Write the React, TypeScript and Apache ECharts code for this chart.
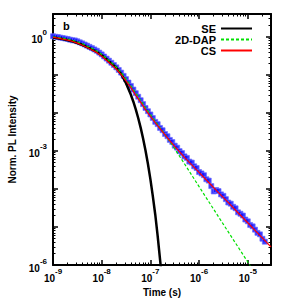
import React, { useEffect, useRef } from "react";
import * as echarts from "echarts";

// ---------- data ----------
// Measured PL decay (blue squares)
const measuredT = [
  1e-9, 1.12e-9, 1.26e-9, 1.41e-9, 1.58e-9, 1.78e-9, 2e-9, 2.24e-9, 2.51e-9, 2.82e-9,
  3.16e-9, 3.55e-9, 3.98e-9, 4.47e-9, 5.01e-9, 5.62e-9, 6.31e-9, 7.08e-9, 7.94e-9, 8.91e-9,
  1e-8, 1.12e-8, 1.26e-8, 1.41e-8, 1.58e-8, 1.78e-8, 2e-8, 2.24e-8, 2.51e-8, 2.82e-8,
  3.16e-8, 3.55e-8, 3.98e-8, 4.47e-8, 5.01e-8, 5.62e-8, 6.31e-8, 7.08e-8, 7.94e-8, 8.91e-8,
  1e-7, 1.12e-7, 1.26e-7, 1.41e-7, 1.58e-7, 1.78e-7, 2e-7, 2.24e-7, 2.51e-7, 2.82e-7,
  3.16e-7, 3.55e-7, 3.98e-7, 4.47e-7, 5.01e-7, 5.62e-7, 6.31e-7, 7.08e-7, 7.94e-7, 8.91e-7,
  1e-6, 1.12e-6, 1.26e-6, 1.41e-6, 1.58e-6, 1.78e-6, 2e-6, 2.24e-6, 2.51e-6, 2.82e-6,
  3.16e-6, 3.55e-6, 3.98e-6, 4.47e-6, 5.01e-6, 5.62e-6, 6.31e-6, 7.08e-6, 7.94e-6, 8.91e-6,
  1e-5, 1.12e-5, 1.26e-5, 1.41e-5, 1.58e-5, 1.78e-5, 2e-5, 2.24e-5,
];
const measuredI = [
  1.04, 1.01, 0.99, 0.96, 0.933, 0.906, 0.881, 0.845, 0.813, 0.807,
  0.767, 0.719, 0.676, 0.631, 0.589, 0.546, 0.507, 0.468, 0.432, 0.386,
  0.347, 0.305, 0.269, 0.237, 0.209, 0.182, 0.158, 0.135, 0.115, 0.0944,
  0.0776, 0.0631, 0.0513, 0.0412, 0.0331, 0.0267, 0.0216, 0.0171, 0.0135, 0.0111,
  0.00912, 0.00736, 0.00582, 0.00507, 0.00403, 0.00351, 0.00279, 0.00244, 0.00195, 0.00172,
  0.00138, 0.00122, 9.9e-4, 8.8e-4, 7.2e-4, 6.56e-4, 5.25e-4, 4.94e-4, 3.95e-4, 3.56e-4,
  2.79e-4, 2.56e-4, 2.3e-4, 1.8e-4, 1.66e-4, 1.19e-4, 8.6e-5, 9.4e-5, 8.8e-5, 7.2e-5,
  6.6e-5, 5.4e-5, 4.4e-5, 4.1e-5, 3.4e-5, 3.1e-5, 2.43e-5, 2.23e-5, 2.0e-5, 1.57e-5,
  1.41e-5, 1.13e-5, 1.04e-5, 8.5e-6, 7.0e-6, 6.4e-6, 4.9e-6, 4.1e-6,
];

// SE fit (black)
const seT = [
  1e-9, 1.58e-9, 2.51e-9, 3.98e-9, 6.31e-9, 7.94e-9, 1e-8, 1.26e-8, 1.58e-8, 2e-8,
  2.51e-8, 3.16e-8, 3.98e-8, 4.47e-8, 5.01e-8, 5.62e-8, 6.31e-8, 7.08e-8, 7.94e-8, 8.91e-8,
  1e-7, 1.12e-7, 1.26e-7, 1.41e-7, 1.58e-7, 1.7e-7,
];
const seI = [
  0.96, 0.88, 0.77, 0.62, 0.47, 0.4, 0.33, 0.26, 0.2, 0.155,
  0.106, 0.0605, 0.0299, 0.0197, 0.0124, 0.00734, 0.0041, 0.00213, 0.00103, 4.54e-4,
  1.82e-4, 6.6e-5, 2.1e-5, 5.85e-6, 1.38e-6, 5.4e-7,
];

// 2D-DAP fit (green dashed)
const dapT = [
  1e-9, 1.58e-9, 2.51e-9, 3.98e-9, 6.31e-9, 7.94e-9, 1e-8, 1.26e-8, 1.58e-8, 2e-8,
  2.51e-8, 3.16e-8, 3.98e-8, 5.01e-8, 6.31e-8, 7.94e-8, 1e-7, 1.26e-7, 1.58e-7, 2e-7,
  2.51e-7, 3.16e-7, 3.98e-7, 5.01e-7, 6.31e-7, 1e-6, 3.16e-6, 1e-5, 1.26e-5,
];
const dapI = [
  1.0, 0.933, 0.822, 0.668, 0.501, 0.427, 0.347, 0.272, 0.211, 0.16,
  0.116, 0.0785, 0.0519, 0.0335, 0.0216, 0.0138, 0.00912, 0.0061, 0.00407, 0.00272,
  0.00178, 0.00114, 7.2e-4, 4.6e-4, 2.9e-4, 1.15e-4, 1.17e-5, 1.2e-6, 7.6e-7,
];

// CS fit (red)
const csT = [
  1e-9, 1.26e-9, 1.58e-9, 2e-9, 2.5e-9, 3.16e-9, 4e-9, 5e-9, 6.3e-9, 8e-9,
  1e-8, 1.26e-8, 1.58e-8, 2e-8, 2.5e-8, 3.16e-8, 4e-8, 5e-8, 6.3e-8, 8e-8,
  1e-7, 1.26e-7, 1.58e-7, 2e-7, 2.5e-7, 3.16e-7, 4e-7, 5e-7, 6.3e-7, 1e-6,
  1.58e-6, 2.5e-6, 4e-6, 6.3e-6, 1e-5, 1.58e-5, 2.5e-5, 3e-5,
];
const csI = [
  0.97, 0.923, 0.871, 0.822, 0.759, 0.684, 0.603, 0.525, 0.452, 0.385,
  0.309, 0.24, 0.186, 0.141, 0.102, 0.0692, 0.0457, 0.0295, 0.0193, 0.012,
  0.00813, 0.00556, 0.00385, 0.00266, 0.00186, 0.00132, 9.4e-4, 6.8e-4, 5.0e-4, 2.72e-4,
  1.48e-4, 8.0e-5, 4.37e-5, 2.37e-5, 1.29e-5, 7.0e-6, 3.8e-6, 3.0e-6,
];

// axis ranges / ticks (exponents of ten)
const xRange = [1e-9, 3e-5];
const yRange = [1e-6, 4];
const xMajorExp = [-9, -8, -7, -6, -5];
const xLabelExp = [-9, -8, -7, -6, -5];
const yMajorExp = [-6, -5, -4, -3, -2, -1, 0];
const yLabelExp = [-6, -3, 0];
const legendNames = ["SE", "2D-DAP", "CS"];
const panelLabel = "b";

const FONT = '"Liberation Sans", Arial, Helvetica, sans-serif';

const lg = (v: number) => Math.log10(v);
const pairs = (t: number[], i: number[]) => t.map((tv, k) => [lg(tv), lg(i[k])]);

function minorTicks(majors: number[], max: number) {
  const out: number[] = [];
  for (const e of majors) {
    for (let k = 2; k <= 9; k++) {
      const v = e + Math.log10(k);
      if (v < max - 0.002) out.push(v);
    }
  }
  return out;
}

const labelRich = {
  b: {
    fontSize: 10,
    fontWeight: "bold",
    fontFamily: FONT,
    color: "#000",
    lineHeight: 16,
    verticalAlign: "bottom",
  },
  s: {
    fontSize: 8,
    fontWeight: "bold",
    fontFamily: FONT,
    color: "#000",
    lineHeight: 8,
    verticalAlign: "top",
  },
};
const fmt = (v: number) => `{b|10}{s|${Math.round(v)}}`;

export default function App() {
  const ref = useRef<HTMLDivElement>(null);

  useEffect(() => {
    if (!ref.current) return;
    const chart = echarts.init(ref.current, null, { renderer: "svg" });

    const xMin = lg(xRange[0]);
    const xMax = lg(xRange[1]);
    const yMin = lg(yRange[0]);
    const yMax = lg(yRange[1]);
    const xMinor = minorTicks(xMajorExp, xMax);
    const yMinor = minorTicks(yMajorExp, yMax);

    const border = { show: true, onZero: false, lineStyle: { color: "#000", width: 2 } };
    const noLine = { show: false, onZero: false };
    const majorTick = (vals: number[]) => ({
      show: true,
      inside: true,
      length: 5,
      customValues: vals,
      lineStyle: { color: "#000", width: 1.5 },
    });
    const minorTick = (vals: number[]) => ({
      show: true,
      inside: true,
      length: 2.5,
      customValues: vals,
      lineStyle: { color: "#000", width: 1 },
    });

    const xBase = { type: "value", min: xMin, max: xMax, splitLine: { show: false } };
    const yBase = { type: "value", min: yMin, max: yMax, splitLine: { show: false } };

    const option: any = {
      animation: false,
      backgroundColor: "#fff",
      grid: {
        left: 53,
        right: 18,
        top: 14,
        bottom: 35,
        containLabel: false,
        outerBoundsMode: "none",
      },
      legend: {
        data: legendNames,
        orient: "vertical",
        align: "right",
        right: 31,
        top: 18,
        itemWidth: 31,
        itemHeight: 11,
        itemGap: 0,
        itemStyle: { opacity: 0, borderWidth: 0 },
        textStyle: {
          fontSize: 11,
          fontWeight: "bold",
          fontFamily: FONT,
          color: "#000",
          lineHeight: 11,
        },
      },
      graphic: [
        {
          type: "text",
          left: 63,
          top: 20,
          style: { text: panelLabel, font: `bold 11px ${FONT}`, fill: "#000" },
        },
      ],
      xAxis: [
        {
          ...xBase,
          position: "bottom",
          axisLine: border,
          axisTick: majorTick(xMajorExp),
          axisLabel: {
            show: true,
            customValues: xLabelExp,
            margin: 2,
            formatter: fmt,
            rich: labelRich,
          },
          name: "Time (s)",
          nameLocation: "middle",
          nameGap: 22,
          nameTextStyle: {
            fontSize: 10,
            fontWeight: "bold",
            fontFamily: FONT,
            color: "#000",
          },
        },
        {
          ...xBase,
          position: "bottom",
          axisLine: noLine,
          axisTick: minorTick(xMinor),
          axisLabel: { show: false },
        },
        {
          ...xBase,
          position: "top",
          axisLine: border,
          axisTick: majorTick(xMajorExp),
          axisLabel: { show: false },
        },
        {
          ...xBase,
          position: "top",
          axisLine: noLine,
          axisTick: minorTick(xMinor),
          axisLabel: { show: false },
        },
      ],
      yAxis: [
        {
          ...yBase,
          position: "left",
          axisLine: border,
          axisTick: majorTick(yMajorExp),
          axisLabel: {
            show: true,
            customValues: yLabelExp,
            margin: 6,
            formatter: fmt,
            rich: labelRich,
          },
          name: "Norm. PL Intensity",
          nameLocation: "middle",
          nameGap: 34,
          nameTextStyle: {
            fontSize: 10,
            fontWeight: "bold",
            fontFamily: FONT,
            color: "#000",
          },
        },
        {
          ...yBase,
          position: "left",
          axisLine: noLine,
          axisTick: minorTick(yMinor),
          axisLabel: { show: false },
        },
        {
          ...yBase,
          position: "right",
          axisLine: border,
          axisTick: majorTick(yMajorExp),
          axisLabel: { show: false },
        },
        {
          ...yBase,
          position: "right",
          axisLine: noLine,
          axisTick: minorTick(yMinor),
          axisLabel: { show: false },
        },
      ],
      series: [
        {
          name: "Data",
          type: "scatter",
          xAxisIndex: 0,
          yAxisIndex: 0,
          data: pairs(measuredT, measuredI),
          symbol: "rect",
          symbolSize: 5,
          itemStyle: { color: "#0606ff", borderColor: "rgba(110,110,255,0.85)", borderWidth: 1 },
          z: 1,
        },
        {
          name: "SE",
          type: "line",
          xAxisIndex: 0,
          yAxisIndex: 0,
          data: pairs(seT, seI),
          symbol: "none",
          showSymbol: false,
          lineStyle: { color: "#000", width: 2.5 },
          itemStyle: { color: "#000" },
          z: 2,
        },
        {
          name: "2D-DAP",
          type: "line",
          xAxisIndex: 0,
          yAxisIndex: 0,
          data: pairs(dapT, dapI),
          symbol: "none",
          showSymbol: false,
          lineStyle: { color: "#00e000", width: 1.2, type: [3, 2] },
          itemStyle: { color: "#00e000" },
          z: 3,
        },
        {
          name: "CS",
          type: "line",
          xAxisIndex: 0,
          yAxisIndex: 0,
          data: pairs(csT, csI),
          symbol: "none",
          showSymbol: false,
          lineStyle: { color: "#ff0000", width: 1.2 },
          itemStyle: { color: "#ff0000" },
          z: 4,
        },
      ],
    };

    chart.setOption(option);
    return () => chart.dispose();
  }, []);

  return (
    <div
      ref={ref}
      style={{ position: "fixed", left: 0, top: 0, width: 289, height: 300, background: "#fff" }}
    />
  );
}
